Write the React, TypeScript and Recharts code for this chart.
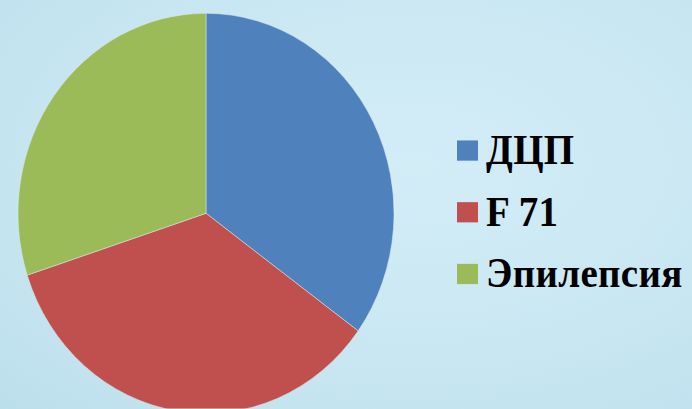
import { PieChart, Pie, Cell, Legend } from 'recharts'

const categories = ['ДЦП', 'F 71', 'Эпилепсия']
const values = [35, 35, 30]
const colors = ['#4F81BD', '#C0504D', '#9BBB59']

const data = categories.map((name, i) => ({ name, value: values[i] }))

// the source picture is stretched a little vertically
const W = 692, H = 409, SY = 1.064

function LegendBox() {
  return (
    <div style={{ display: 'flex', flexDirection: 'column', gap: 18 }}>
      {data.map((d, i) => (
        <div key={d.name} style={{ display: 'flex', alignItems: 'center', height: 40 }}>
          <div style={{ width: 21, height: 19, background: colors[i], marginRight: 8 }} />
          <span style={{ fontFamily: '"Liberation Serif", "Times New Roman", serif', fontWeight: 700, fontSize: 39, color: '#000', lineHeight: '40px', letterSpacing: 0.3 }}>
            {d.name}
          </span>
        </div>
      ))}
    </div>
  )
}

export default function App() {
  return (
    <div style={{
      position: 'absolute', left: 0, top: 0, width: W, height: H, overflow: 'hidden',
      background: 'radial-gradient(ellipse at 60% 40%, #d3edf7 0%, #c9e7f2 55%, #bcdfec 100%)',
    }}>
      <div style={{ transform: `scaleY(${SY})`, transformOrigin: 'top left', width: W, height: H / SY }}>
        <PieChart width={W} height={H / SY} margin={{ top: 0, right: 0, bottom: 0, left: 0 }}>
          <Pie
            data={data}
            dataKey="value"
            nameKey="name"
            cx={206}
            cy={200.5}
            outerRadius={188}
            startAngle={90}
            endAngle={-270}
            stroke="#dbe9ef"
            strokeWidth={0.5}
            isAnimationActive={false}
          >
            {data.map((_, i) => <Cell key={i} fill={colors[i]} />)}
          </Pie>
          <Legend
            layout="vertical"
            align="right"
            verticalAlign="top"
            wrapperStyle={{ left: 457, top: 121, width: 235 }}
            content={() => <LegendBox />}
          />
        </PieChart>
      </div>
    </div>
  )
}
